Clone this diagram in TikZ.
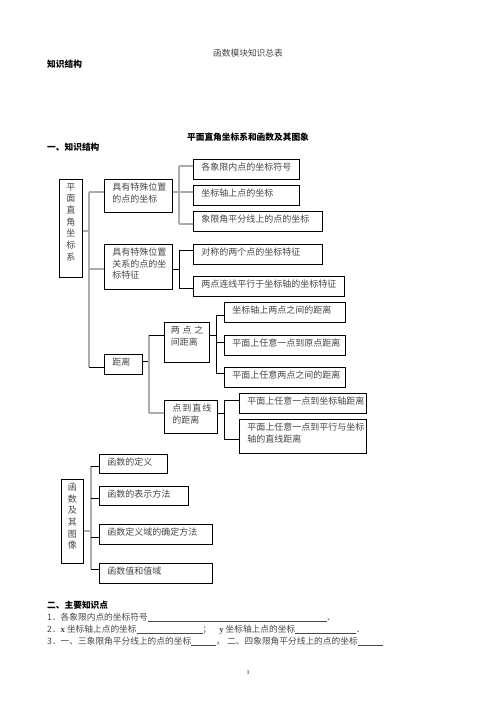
\documentclass[tikz,border=0pt]{standalone}
\usepackage{fontspec}
\setmainfont{Liberation Serif}
\newfontfamily\cjk{Noto Sans CJK SC}
\newcommand{\bxt}[3]{\parbox[c][#2][t]{#1}{\vspace*{3.8pt}\leftskip=8pt\rightskip=0pt plus 1fil\baselineskip=11.5pt #3}}
\newcommand{\bxc}[3]{\parbox[c][#2][t]{#1}{\vspace*{3.8pt}\centering\baselineskip=11.7pt #3}}
\tikzset{
  bx/.style={draw=black, line width=0.8pt, inner sep=0pt, anchor=north west,
    font=\cjk\fontsize{9}{11.5}\selectfont, text=black!72},
  gl/.style={draw=gray!65, line width=1.4pt},
  bl/.style={draw=black, line width=0.7pt},
  txt/.style={inner sep=0pt, font=\cjk\fontsize{8.7}{11}\selectfont, text=black!72},
  hd/.style={inner sep=0pt, font=\cjk\bfseries\fontsize{8.7}{11}\selectfont, text=black}
}
\begin{document}
\begin{tikzpicture}[x=1pt,y=-1pt]
\useasboundingbox[fill=white] (0,0) rectangle (496,702);
% headings
\node[txt] (title) at (248,53) {函数模块知识总表};
\node[hd, anchor=west] (h1) at (47,64) {知识结构};
\node[hd] (h2) at (248,137) {平面直角坐标系和函数及其图象};
\node[hd, anchor=west] (h3) at (47,147) {一、知识结构};
% tree 1 boxes
\node[bx] (P) at (59,179) {\bxc{23pt}{98pt}{平\\面\\直\\角\\坐\\标\\系}};
\node[bx] (A) at (104,179) {\bxt{68pt}{33pt}{具有特殊位置\\的点的坐标}};
\node[bx] (B) at (104,244) {\bxt{68pt}{45pt}{具有特殊位置\\关系的点的坐\\标特征}};
\node[bx] (D) at (104,354) {\bxt{38pt}{20pt}{距离}};
\node[bx] (A1) at (193,159) {\bxt{106pt}{20pt}{各象限内点的坐标符号}};
\node[bx] (A2) at (193,185) {\bxt{106pt}{20pt}{坐标轴上点的坐标}};
\node[bx] (A3) at (193,211) {\bxt{129pt}{20pt}{象限角平分线上的点的坐标}};
\node[bx] (B1) at (193,244) {\bxt{129pt}{20pt}{对称的两个点的坐标特征}};
\node[bx] (B2) at (193,276) {\bxt{151pt}{20pt}{两点连线平行于坐标轴的坐标特征}};
\node[bx] (T) at (164,322) {\bxt{45pt}{40pt}{\hspace*{-1.5pt}两\hspace{2.8pt}点\hspace{2.8pt}之\\\hspace*{-1.5pt}间距离}};
\node[bx] (L) at (164,400) {\bxt{53pt}{33pt}{点\hspace{1pt}到\hspace{1pt}直\hspace{1pt}线\\的距离}};
\node[bx] (C1) at (224,302) {\bxt{121pt}{20pt}{坐标轴上两点之间的距离}};
\node[bx] (C2) at (224,335) {\bxt{121pt}{20pt}{平面上任意一点到原点距离}};
\node[bx] (C3) at (224,367) {\bxt{121pt}{20pt}{平面上任意两点之间的距离}};
\node[bx] (D1) at (239,393) {\bxt{127pt}{20pt}{平面上任意一点到坐标轴距离}};
\node[bx] (D2) at (239,419) {\bxt{127pt}{34pt}{平面上任意一点到平行与坐标\\轴的直线距离}};
% tree 1 connectors
\coordinate (s1) at (89,192); \coordinate (s2) at (89,231);
\coordinate (s3) at (89,269); \coordinate (s4) at (89,367);
\draw[gl] (P.east |- s2) -- (s2);
\draw[gl] (s1) -- (s4);
\draw[gl] (s1) -- (s1 -| A.west);
\draw[gl] (s3) -- (s3 -| B.west);
\draw[bl] (s4) -- (s4 -| D.west);
\coordinate (a1) at (179,166); \coordinate (a2) at (179,192); \coordinate (a3) at (179,224);
\draw[gl] (A.east |- a2) -- (a2);
\draw[gl] (a1) -- (a3);
\draw[gl] (a1) -- (a1 -| A1.west);
\draw[gl] (a2) -- (a2 -| A2.west);
\draw[gl] (a3) -- (a3 -| A3.west);
\coordinate (b1) at (179,250); \coordinate (b2) at (179,269); \coordinate (b3) at (179,288);
\draw[bl] (B.east |- b2) -- (b2);
\draw[bl] (b1) -- (b3);
\draw[bl] (b1) -- (b1 -| B1.west);
\draw[bl] (b3) -- (b3 -| B2.west);
\coordinate (d1) at (149,335); \coordinate (d2) at (149,361); \coordinate (d3) at (149,413);
\draw[bl] (D.east |- d2) -- (d2);
\draw[gl] (d1) -- (d3);
\draw[bl] (d1) -- (d1 -| T.west);
\draw[gl] (d3) -- (d3 -| L.west);
\coordinate (t1) at (216,315); \coordinate (t2) at (216,335); \coordinate (t3) at (216,342); \coordinate (t4) at (216,373);
\draw[bl] (T.east |- t2) -- (t2);
\draw[bl] (t1) -- (t4);
\draw[bl] (t1) -- (t1 -| C1.west);
\draw[bl] (t3) -- (t3 -| C2.west);
\draw[bl] (t4) -- (t4 -| C3.west);
\coordinate (l1) at (224,400); \coordinate (l2) at (224,413); \coordinate (l3) at (224,439);
\draw[bl] (L.east |- l2) -- (l2);
\draw[bl] (l1) -- (l3);
\draw[bl] (l1) -- (l1 -| D1.west);
\draw[bl] (l3) -- (l3 -| D2.west);
% tree 2
\node[bx] (F) at (61,479) {\bxc{22pt}{84pt}{函\\数\\及\\其\\图\\像}};
\node[bx] (E1) at (99,454) {\bxt{68pt}{19pt}{函数的定义}};
\node[bx] (E2) at (99,486) {\bxt{89pt}{19pt}{函数的表示方法}};
\node[bx] (E3) at (99,524) {\bxt{113pt}{20pt}{函数定义域的确定方法}};
\node[bx] (E4) at (99,563) {\bxt{113pt}{20pt}{函数值和值域}};
\coordinate (f1) at (91,466); \coordinate (f2) at (91,498); \coordinate (f0) at (91,531);
\coordinate (f3) at (91,537); \coordinate (f4) at (91,569);
\draw[gl] (F.east |- f0) -- (f0);
\draw[gl] (f1) -- (f4);
\draw[bl] (f1) -- (f1 -| E1.west);
\draw[bl] (f2) -- (f2 -| E2.west);
\draw[bl] (f3) -- (f3 -| E3.west);
\draw[bl] (f4) -- (f4 -| E4.west);
% main points
\node[hd, anchor=west] (h4) at (47,605) {二、主要知识点};
\node[txt, anchor=base west] (k1) at (47,620) {1．各象限内点的坐标符号\underline{\hspace{179pt}}．};
\node[txt, anchor=base west] (k2) at (47,632) {2．{\rmfamily\bfseries x} 坐标轴上点的坐标\underline{\hspace{66pt}}；\hspace{8pt}{\rmfamily\bfseries y} 坐标轴上点的坐标\underline{\hspace{61pt}}．};
\node[txt, anchor=base west] (k3) at (47,644) {3．一、三象限角平分线上的点的坐标\underline{\hspace{25pt}}，};
\node[txt, anchor=base west] (k4) at (227,644) {二、四象限角平分线上的点的坐标\underline{\hspace{25pt}}};
\node[inner sep=0pt, font=\fontsize{6}{6}\selectfont] (pg) at (248,673) {1};
\end{tikzpicture}
\end{document}
